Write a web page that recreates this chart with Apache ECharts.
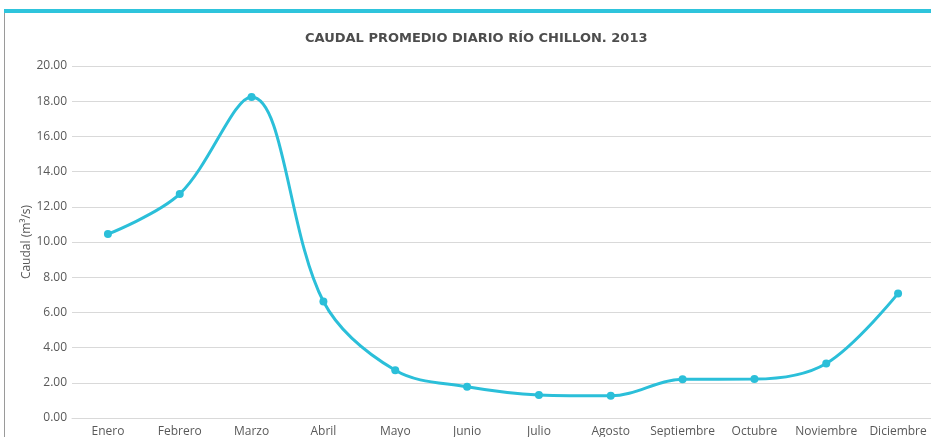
<!DOCTYPE html>
<html>
<head>
<meta charset="utf-8">
<script src="https://cdn.jsdelivr.net/npm/echarts@6/dist/echarts.min.js"></script>
<style>
html, body { margin: 0; padding: 0; background: #fff; }
#chart { width: 931px; height: 437px; }
</style>
</head>
<body>
<div id="chart"></div>
<script>
var meses = ['Enero', 'Febrero', 'Marzo', 'Abril', 'Mayo', 'Junio', 'Julio', 'Agosto', 'Septiembre', 'Octubre', 'Noviembre', 'Diciembre'];
var caudal = [10.45, 12.73, 18.24, 6.62, 2.71, 1.77, 1.31, 1.26, 2.20, 2.21, 3.10, 7.08];
var yMin = 0;
var yMax = 20;
var yStep = 2;

var chart = echarts.init(document.getElementById('chart'));

var option = {
	animation: false,
	textStyle: { fontFamily: 'Open Sans' },
	title: {
		text: 'CAUDAL PROMEDIO DIARIO RÍO CHILLON. 2013',
		left: 300,
		top: 27,
		textStyle: {
			fontFamily: 'DejaVu Sans',
			fontSize: 13,
			fontWeight: 'bold',
			color: '#4d4d4d'
		}
	},
	graphic: [{
		type: 'rect',
		shape: { x: 4, y: 9, width: 927, height: 4 },
		style: { fill: '#2ec4dc' }
	}, {
		type: 'rect',
		shape: { x: 4, y: 13, width: 1, height: 424 },
		style: { fill: '#9a9a9a' }
	}],
	grid: {
		left: 72,
		right: -3,
		top: 66,
		bottom: 19,
		outerBoundsMode: 'none'
	},
	xAxis: {
		type: 'category',
		data: meses,
		boundaryGap: true,
		axisTick: { show: false },
		axisLine: { lineStyle: { color: '#d9d9d9' } },
		axisLabel: {
			color: '#595959',
			fontSize: 12,
			margin: 8,
			interval: 0
		}
	},
	yAxis: {
		type: 'value',
		min: yMin,
		max: yMax,
		interval: yStep,
		name: 'Caudal (m³/s)',
		nameLocation: 'middle',
		nameGap: 39,
		nameMoveOverlap: false,
		nameTextStyle: { color: '#595959', fontSize: 12 },
		axisLine: { show: false },
		axisTick: { show: false },
		axisLabel: {
			color: '#595959',
			fontSize: 12,
			margin: 5,
			formatter: function (v) { return v.toFixed(2); }
		},
		splitLine: { lineStyle: { color: '#d9d9d9', width: 1 } }
	},
	series: [{
		name: 'Caudal',
		type: 'line',
		data: caudal,
		smooth: 0.35,
		symbol: 'circle',
		symbolSize: 8,
		lineStyle: { color: '#2bbfd9', width: 3 },
		itemStyle: { color: '#2bbfd9' }
	}]
};

chart.setOption(option);
</script>
</body>
</html>
